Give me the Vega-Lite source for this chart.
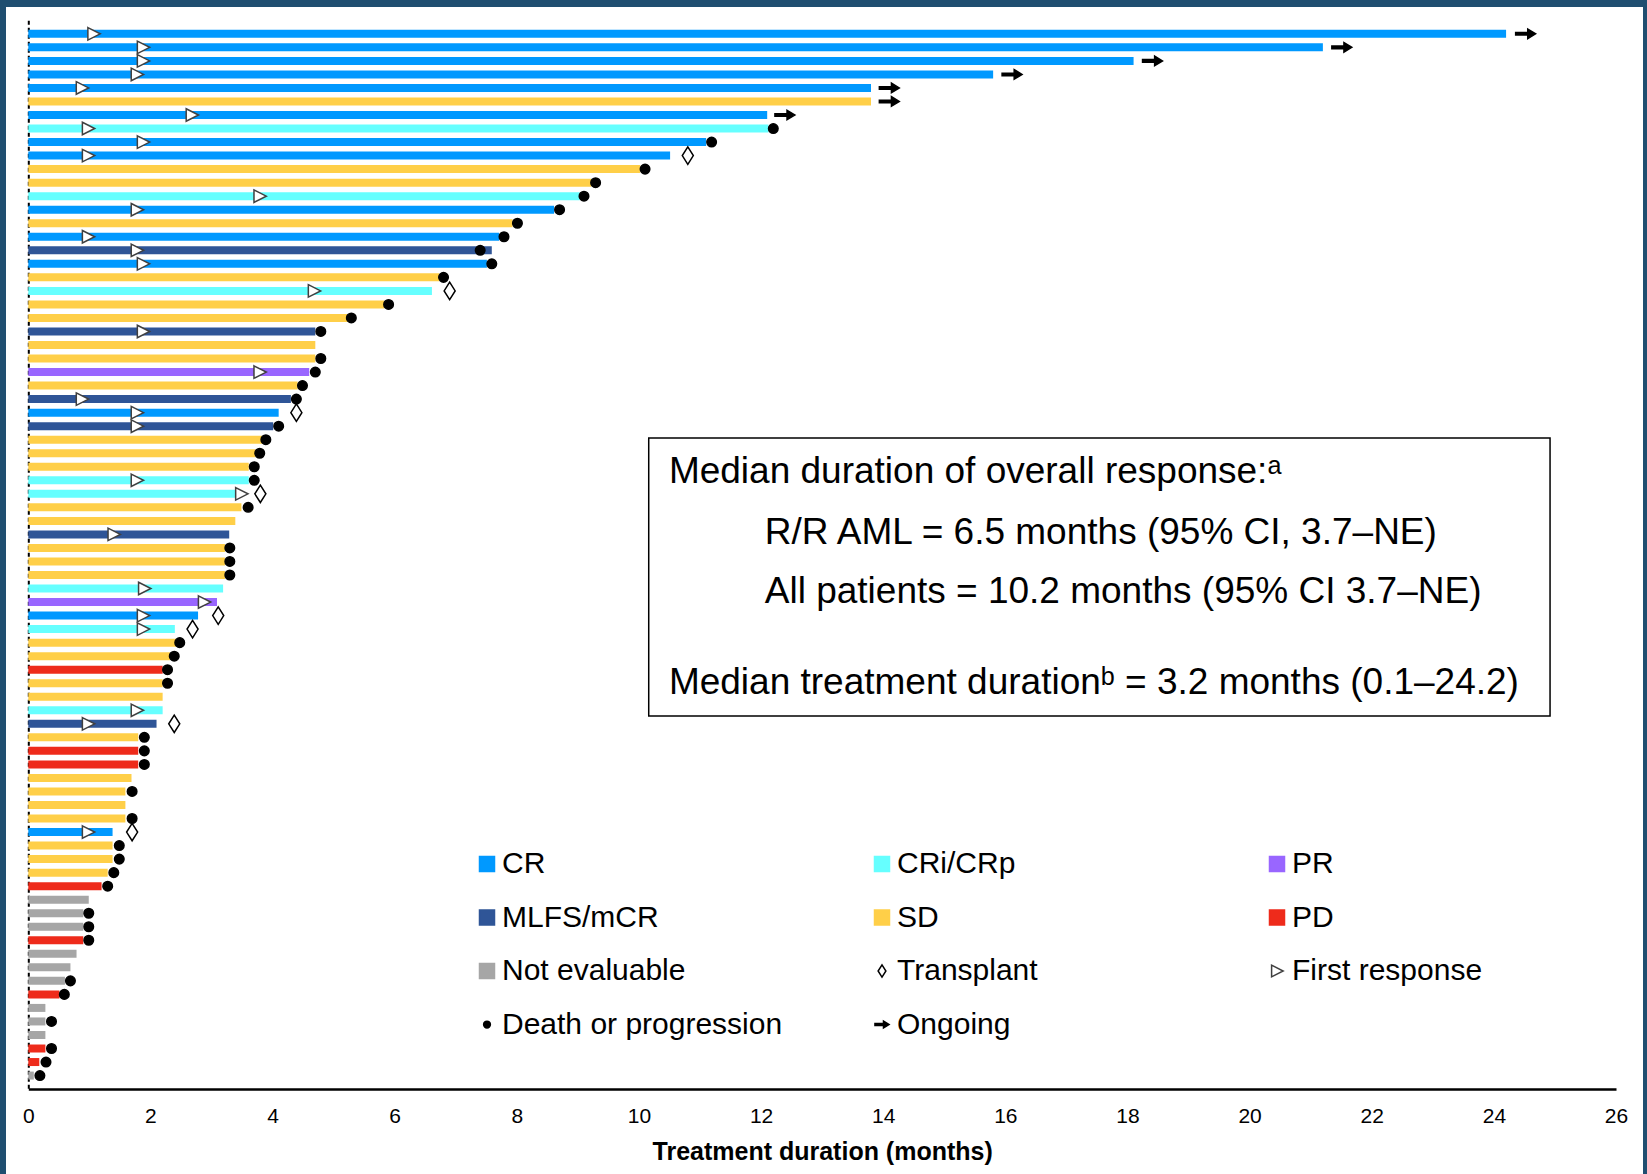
{
  "$schema": "https://vega.github.io/schema/vega-lite/v6.json",
  "width": 1637,
  "height": 1167,
  "autosize": {"type": "none"},
  "padding": {"left": 6, "top": 7, "right": 4, "bottom": 0},
  "background": "#1F4E70",
  "config": {"view": {"fill": "white", "stroke": null}, "font": "Liberation Sans"},
  "datasets": {
    "patients": [
      {"rank": 1, "category": "CR", "months": 24.2},
      {"rank": 2, "category": "CR", "months": 21.2},
      {"rank": 3, "category": "CR", "months": 18.1},
      {"rank": 4, "category": "CR", "months": 15.8},
      {"rank": 5, "category": "CR", "months": 13.8},
      {"rank": 6, "category": "SD", "months": 13.8},
      {"rank": 7, "category": "CR", "months": 12.1},
      {"rank": 8, "category": "CRi/CRp", "months": 12.12},
      {"rank": 9, "category": "CR", "months": 11.1},
      {"rank": 10, "category": "CR", "months": 10.51},
      {"rank": 11, "category": "SD", "months": 10.02},
      {"rank": 12, "category": "SD", "months": 9.22},
      {"rank": 13, "category": "CRi/CRp", "months": 9.03},
      {"rank": 14, "category": "CR", "months": 8.61},
      {"rank": 15, "category": "SD", "months": 7.93},
      {"rank": 16, "category": "CR", "months": 7.71},
      {"rank": 17, "category": "MLFS/mCR", "months": 7.59},
      {"rank": 18, "category": "CR", "months": 7.51},
      {"rank": 19, "category": "SD", "months": 6.73},
      {"rank": 20, "category": "CRi/CRp", "months": 6.61},
      {"rank": 21, "category": "SD", "months": 5.83},
      {"rank": 22, "category": "SD", "months": 5.23},
      {"rank": 23, "category": "MLFS/mCR", "months": 4.7},
      {"rank": 24, "category": "SD", "months": 4.7},
      {"rank": 25, "category": "SD", "months": 4.7},
      {"rank": 26, "category": "PR", "months": 4.6},
      {"rank": 27, "category": "SD", "months": 4.41},
      {"rank": 28, "category": "MLFS/mCR", "months": 4.3},
      {"rank": 29, "category": "CR", "months": 4.1},
      {"rank": 30, "category": "MLFS/mCR", "months": 4.01},
      {"rank": 31, "category": "SD", "months": 3.83},
      {"rank": 32, "category": "SD", "months": 3.72},
      {"rank": 33, "category": "SD", "months": 3.61},
      {"rank": 34, "category": "CRi/CRp", "months": 3.61},
      {"rank": 35, "category": "CRi/CRp", "months": 3.4},
      {"rank": 36, "category": "SD", "months": 3.49},
      {"rank": 37, "category": "SD", "months": 3.39},
      {"rank": 38, "category": "MLFS/mCR", "months": 3.29},
      {"rank": 39, "category": "SD", "months": 3.22},
      {"rank": 40, "category": "SD", "months": 3.22},
      {"rank": 41, "category": "SD", "months": 3.22},
      {"rank": 42, "category": "CRi/CRp", "months": 3.19},
      {"rank": 43, "category": "PR", "months": 3.09},
      {"rank": 44, "category": "CR", "months": 2.78},
      {"rank": 45, "category": "CRi/CRp", "months": 2.4},
      {"rank": 46, "category": "SD", "months": 2.42},
      {"rank": 47, "category": "SD", "months": 2.32},
      {"rank": 48, "category": "PD", "months": 2.2},
      {"rank": 49, "category": "SD", "months": 2.2},
      {"rank": 50, "category": "SD", "months": 2.2},
      {"rank": 51, "category": "CRi/CRp", "months": 2.2},
      {"rank": 52, "category": "MLFS/mCR", "months": 2.1},
      {"rank": 53, "category": "SD", "months": 1.8},
      {"rank": 54, "category": "PD", "months": 1.8},
      {"rank": 55, "category": "PD", "months": 1.8},
      {"rank": 56, "category": "SD", "months": 1.69},
      {"rank": 57, "category": "SD", "months": 1.59},
      {"rank": 58, "category": "SD", "months": 1.59},
      {"rank": 59, "category": "SD", "months": 1.59},
      {"rank": 60, "category": "CR", "months": 1.38},
      {"rank": 61, "category": "SD", "months": 1.38},
      {"rank": 62, "category": "SD", "months": 1.38},
      {"rank": 63, "category": "SD", "months": 1.3},
      {"rank": 64, "category": "PD", "months": 1.2},
      {"rank": 65, "category": "Not evaluable", "months": 0.99},
      {"rank": 66, "category": "Not evaluable", "months": 0.9},
      {"rank": 67, "category": "Not evaluable", "months": 0.9},
      {"rank": 68, "category": "PD", "months": 0.9},
      {"rank": 69, "category": "Not evaluable", "months": 0.79},
      {"rank": 70, "category": "Not evaluable", "months": 0.69},
      {"rank": 71, "category": "Not evaluable", "months": 0.6},
      {"rank": 72, "category": "PD", "months": 0.51},
      {"rank": 73, "category": "Not evaluable", "months": 0.28},
      {"rank": 74, "category": "Not evaluable", "months": 0.28},
      {"rank": 75, "category": "Not evaluable", "months": 0.28},
      {"rank": 76, "category": "PD", "months": 0.28},
      {"rank": 77, "category": "PD", "months": 0.18},
      {"rank": 78, "category": "Not evaluable", "months": 0.09}
    ],
    "events": [
      {"rank": 1, "category": "First response", "months": 1.07},
      {"rank": 2, "category": "First response", "months": 1.88},
      {"rank": 3, "category": "First response", "months": 1.88},
      {"rank": 4, "category": "First response", "months": 1.78},
      {"rank": 5, "category": "First response", "months": 0.88},
      {"rank": 7, "category": "First response", "months": 2.68},
      {"rank": 8, "category": "First response", "months": 0.98},
      {"rank": 9, "category": "First response", "months": 1.88},
      {"rank": 10, "category": "First response", "months": 0.98},
      {"rank": 13, "category": "First response", "months": 3.79},
      {"rank": 14, "category": "First response", "months": 1.78},
      {"rank": 16, "category": "First response", "months": 0.98},
      {"rank": 17, "category": "First response", "months": 1.78},
      {"rank": 18, "category": "First response", "months": 1.88},
      {"rank": 20, "category": "First response", "months": 4.68},
      {"rank": 23, "category": "First response", "months": 1.88},
      {"rank": 26, "category": "First response", "months": 3.79},
      {"rank": 28, "category": "First response", "months": 0.88},
      {"rank": 29, "category": "First response", "months": 1.78},
      {"rank": 30, "category": "First response", "months": 1.78},
      {"rank": 34, "category": "First response", "months": 1.78},
      {"rank": 35, "category": "First response", "months": 3.49},
      {"rank": 38, "category": "First response", "months": 1.4},
      {"rank": 42, "category": "First response", "months": 1.9},
      {"rank": 43, "category": "First response", "months": 2.88},
      {"rank": 44, "category": "First response", "months": 1.88},
      {"rank": 45, "category": "First response", "months": 1.88},
      {"rank": 51, "category": "First response", "months": 1.78},
      {"rank": 52, "category": "First response", "months": 0.98},
      {"rank": 60, "category": "First response", "months": 0.98},
      {"rank": 8, "category": "Death or progression", "months": 12.2},
      {"rank": 9, "category": "Death or progression", "months": 11.19},
      {"rank": 11, "category": "Death or progression", "months": 10.1},
      {"rank": 12, "category": "Death or progression", "months": 9.29},
      {"rank": 13, "category": "Death or progression", "months": 9.1},
      {"rank": 14, "category": "Death or progression", "months": 8.7},
      {"rank": 15, "category": "Death or progression", "months": 8.01},
      {"rank": 16, "category": "Death or progression", "months": 7.79},
      {"rank": 17, "category": "Death or progression", "months": 7.4},
      {"rank": 18, "category": "Death or progression", "months": 7.59},
      {"rank": 19, "category": "Death or progression", "months": 6.8},
      {"rank": 21, "category": "Death or progression", "months": 5.9},
      {"rank": 22, "category": "Death or progression", "months": 5.29},
      {"rank": 23, "category": "Death or progression", "months": 4.79},
      {"rank": 25, "category": "Death or progression", "months": 4.79},
      {"rank": 26, "category": "Death or progression", "months": 4.7},
      {"rank": 27, "category": "Death or progression", "months": 4.49},
      {"rank": 28, "category": "Death or progression", "months": 4.39},
      {"rank": 30, "category": "Death or progression", "months": 4.1},
      {"rank": 31, "category": "Death or progression", "months": 3.89},
      {"rank": 32, "category": "Death or progression", "months": 3.79},
      {"rank": 33, "category": "Death or progression", "months": 3.7},
      {"rank": 34, "category": "Death or progression", "months": 3.7},
      {"rank": 36, "category": "Death or progression", "months": 3.6},
      {"rank": 39, "category": "Death or progression", "months": 3.3},
      {"rank": 40, "category": "Death or progression", "months": 3.3},
      {"rank": 41, "category": "Death or progression", "months": 3.3},
      {"rank": 46, "category": "Death or progression", "months": 2.48},
      {"rank": 47, "category": "Death or progression", "months": 2.39},
      {"rank": 48, "category": "Death or progression", "months": 2.28},
      {"rank": 49, "category": "Death or progression", "months": 2.28},
      {"rank": 53, "category": "Death or progression", "months": 1.9},
      {"rank": 54, "category": "Death or progression", "months": 1.9},
      {"rank": 55, "category": "Death or progression", "months": 1.9},
      {"rank": 57, "category": "Death or progression", "months": 1.7},
      {"rank": 59, "category": "Death or progression", "months": 1.7},
      {"rank": 61, "category": "Death or progression", "months": 1.49},
      {"rank": 62, "category": "Death or progression", "months": 1.49},
      {"rank": 63, "category": "Death or progression", "months": 1.4},
      {"rank": 64, "category": "Death or progression", "months": 1.3},
      {"rank": 66, "category": "Death or progression", "months": 0.99},
      {"rank": 67, "category": "Death or progression", "months": 0.99},
      {"rank": 68, "category": "Death or progression", "months": 0.99},
      {"rank": 71, "category": "Death or progression", "months": 0.69},
      {"rank": 72, "category": "Death or progression", "months": 0.59},
      {"rank": 74, "category": "Death or progression", "months": 0.38},
      {"rank": 76, "category": "Death or progression", "months": 0.38},
      {"rank": 77, "category": "Death or progression", "months": 0.29},
      {"rank": 78, "category": "Death or progression", "months": 0.19},
      {"rank": 10, "category": "Transplant", "months": 10.8},
      {"rank": 20, "category": "Transplant", "months": 6.9},
      {"rank": 29, "category": "Transplant", "months": 4.39},
      {"rank": 35, "category": "Transplant", "months": 3.8},
      {"rank": 44, "category": "Transplant", "months": 3.11},
      {"rank": 45, "category": "Transplant", "months": 2.69},
      {"rank": 52, "category": "Transplant", "months": 2.39},
      {"rank": 60, "category": "Transplant", "months": 1.7},
      {"rank": 1, "category": "Ongoing", "months": 24.52},
      {"rank": 2, "category": "Ongoing", "months": 21.51},
      {"rank": 3, "category": "Ongoing", "months": 18.41},
      {"rank": 4, "category": "Ongoing", "months": 16.11},
      {"rank": 5, "category": "Ongoing", "months": 14.1},
      {"rank": 6, "category": "Ongoing", "months": 14.1},
      {"rank": 7, "category": "Ongoing", "months": 12.39}
    ]
  },
  "layer": [
    {
      "data": {"name": "patients"},
      "mark": {"type": "bar", "orient": "horizontal", "size": 8},
      "encoding": {
        "y": {
          "field": "rank", "type": "quantitative",
          "scale": {"domain": [0, 79], "range": [13.3, 1082.1], "nice": false, "zero": false, "padding": 0},
          "axis": {"labels": false, "ticks": false, "grid": false, "title": null, "domainDash": [4, 3], "domainColor": "#000000", "domainWidth": 2, "offset": -22.3}
        },
        "x": {
          "field": "months", "type": "quantitative",
          "scale": {"domain": [0, 26], "range": [22.3, 1610], "nice": false, "padding": 0},
          "axis": {"title": "Treatment duration (months)", "titleFontSize": 25, "titleFontWeight": "bold", "titleColor": "#000000", "titlePadding": 13, "values": [0, 2, 4, 6, 8, 10, 12, 14, 16, 18, 20, 22, 24, 26], "format": "d", "labelFontSize": 21, "labelColor": "#000000", "labelPadding": 16, "labelFlush": false, "labelOverlap": false, "ticks": false, "tickSize": 0, "grid": false, "domainColor": "#000000", "domainWidth": 2.5, "offset": -85}
        },
        "fill": {
          "field": "category", "type": "nominal",
          "scale": {
            "domain": ["CR", "MLFS/mCR", "Not evaluable", "Death or progression", "CRi/CRp", "SD", "Transplant", "Ongoing", "PR", "PD", "First response"],
            "range": ["#0099FF", "#2F5597", "#A6A6A6", "#000000", "#66FFFF", "#FFCF48", "#FFFFFF", "#000000", "#9966FF", "#EE2B1B", "#FFFFFF"]
          },
          "legend": {"title": null, "orient": "none", "legendX": 466, "legendY": 842, "columns": 3, "gridAlign": "all", "columnPadding": 84, "rowPadding": 23.5, "symbolSize": 225, "symbolStrokeWidth": 1.5, "symbolOpacity": 1, "labelFont": "Liberation Sans", "labelFontSize": 30, "labelColor": "#000000", "labelLimit": 600, "labelOffset": 0, "padding": 0}
        }
      }
    },
    {
      "data": {"name": "events"},
      "transform": [{"filter": "datum.category === 'First response'"}],
      "mark": {"type": "point", "filled": true, "size": 256, "strokeWidth": 1.5, "opacity": 1},
      "encoding": {
        "x": {"field": "months", "type": "quantitative"},
        "y": {"field": "rank", "type": "quantitative"},
        "fill": {"field": "category", "type": "nominal"},
        "stroke": {
          "field": "category", "type": "nominal",
          "scale": {
            "domain": ["CR", "MLFS/mCR", "Not evaluable", "Death or progression", "CRi/CRp", "SD", "Transplant", "Ongoing", "PR", "PD", "First response"],
            "range": ["#0099FF", "#2F5597", "#A6A6A6", "#000000", "#66FFFF", "#FFCF48", "#000000", "#000000", "#9966FF", "#EE2B1B", "#404040"]
          }
        },
        "shape": {
          "field": "category", "type": "nominal",
          "scale": {
            "domain": ["CR", "MLFS/mCR", "Not evaluable", "Death or progression", "CRi/CRp", "SD", "Transplant", "Ongoing", "PR", "PD", "First response"],
            "range": ["square", "square", "square", "M0.45,0A0.45,0.45,0,1,1,-0.45,0A0.45,0.45,0,1,1,0.45,0Z", "square", "square", "M0,-0.82L0.52,0L0,0.82L-0.52,0Z", "M-0.94,-0.12L0.2,-0.12L0.2,-0.45L0.94,0L0.2,0.45L0.2,0.12L-0.94,0.12Z", "square", "square", "M-0.72,-0.78L0.82,0L-0.72,0.78Z"]
          }
        }
      }
    },
    {
      "data": {"name": "events"},
      "transform": [{"filter": "datum.category !== 'First response'"}],
      "mark": {"type": "point", "filled": true, "size": 450, "strokeWidth": 1.5, "opacity": 1},
      "encoding": {
        "x": {"field": "months", "type": "quantitative"},
        "y": {"field": "rank", "type": "quantitative"},
        "fill": {"field": "category", "type": "nominal"},
        "stroke": {"field": "category", "type": "nominal"},
        "shape": {"field": "category", "type": "nominal"}
      }
    },
    {
      "data": {"values": [{}]},
      "mark": {"type": "rect", "fill": "#FFFFFF", "stroke": "#000000", "strokeWidth": 1.5},
      "encoding": {
        "x": {"datum": 10.16, "type": "quantitative"},
        "x2": {"datum": 24.92},
        "y": {"datum": 30.87, "type": "quantitative"},
        "y2": {"datum": 51.42}
      }
    },
    {
      "data": {"values": [{}]},
      "mark": {"type": "text", "align": "left", "baseline": "middle", "fontSize": 37, "font": "Liberation Sans", "color": "#000000"},
      "encoding": {
        "x": {"datum": 10.49, "type": "quantitative"},
        "y": {"datum": 33.36, "type": "quantitative"},
        "text": {"value": "Median duration of overall response:ᵃ"}
      }
    },
    {
      "data": {"values": [{}]},
      "mark": {"type": "text", "align": "left", "baseline": "middle", "fontSize": 37, "font": "Liberation Sans", "color": "#000000"},
      "encoding": {
        "x": {"datum": 12.06, "type": "quantitative"},
        "y": {"datum": 37.86, "type": "quantitative"},
        "text": {"value": "R/R AML = 6.5 months (95% CI, 3.7–NE)"}
      }
    },
    {
      "data": {"values": [{}]},
      "mark": {"type": "text", "align": "left", "baseline": "middle", "fontSize": 37, "font": "Liberation Sans", "color": "#000000"},
      "encoding": {
        "x": {"datum": 12.06, "type": "quantitative"},
        "y": {"datum": 42.28, "type": "quantitative"},
        "text": {"value": "All patients = 10.2 months (95% CI 3.7–NE)"}
      }
    },
    {
      "data": {"values": [{}]},
      "mark": {"type": "text", "align": "left", "baseline": "middle", "fontSize": 37, "font": "Liberation Sans", "color": "#000000"},
      "encoding": {
        "x": {"datum": 10.49, "type": "quantitative"},
        "y": {"datum": 48.96, "type": "quantitative"},
        "text": {"value": "Median treatment durationᵇ = 3.2 months (0.1–24.2)"}
      }
    }
  ]
}
